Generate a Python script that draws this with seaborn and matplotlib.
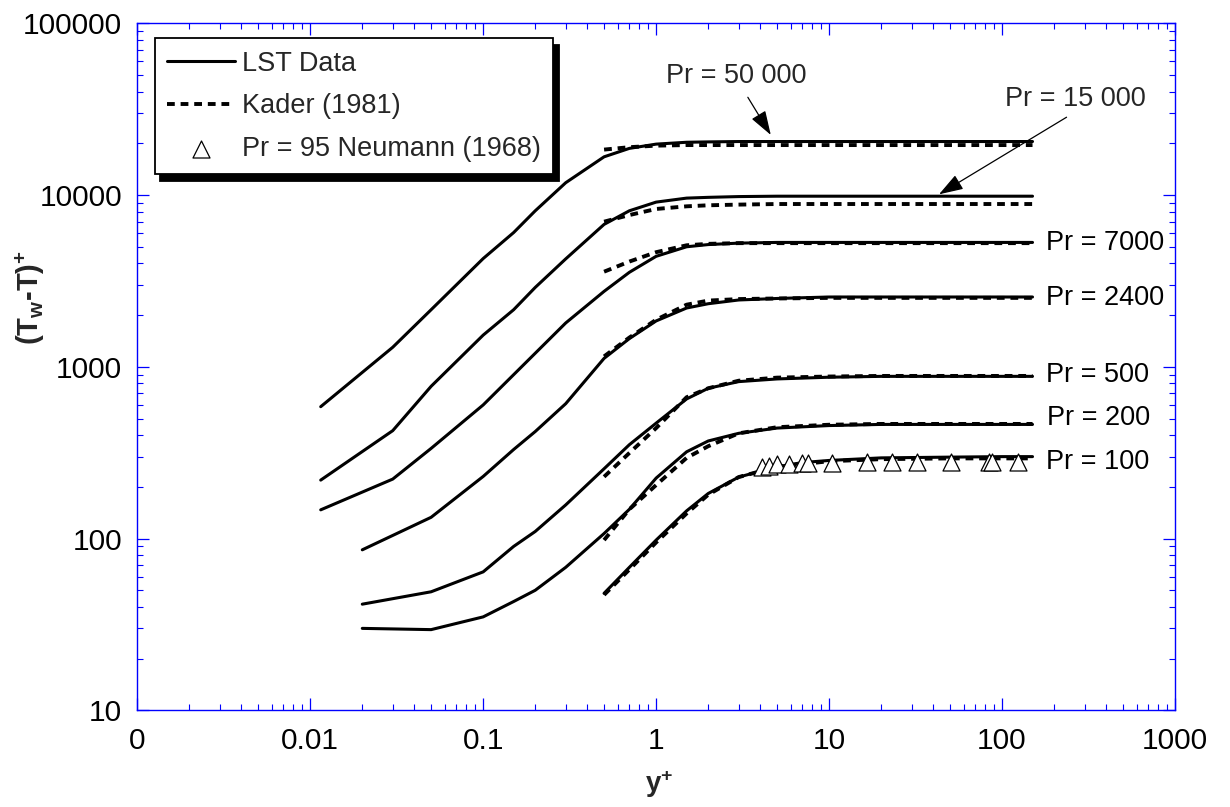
import matplotlib
matplotlib.use("Agg")
import matplotlib.pyplot as plt
import seaborn as sns
import pandas as pd
from matplotlib.ticker import FixedLocator, FixedFormatter, LogLocator, NullFormatter

# ---------------- data ----------------
x_lst_wall = [0.0115, 0.03, 0.05, 0.1, 0.15, 0.2, 0.3, 0.5, 0.7, 1, 1.5, 2, 3, 5, 10, 20, 50, 100, 150]
lst_pr50000 = [586, 1300, 2150, 4270, 6050, 8100, 11800, 16700, 18700, 19800, 20300, 20400, 20500,
               20500, 20500, 20500, 20500, 20500, 20500]
lst_pr15000 = [219, 425, 770, 1530, 2150, 2900, 4250, 6750, 8100, 9100, 9600, 9700, 9800,
               9850, 9850, 9850, 9850, 9850, 9850]
lst_pr7000 = [147, 222, 335, 600, 900, 1200, 1800, 2750, 3550, 4400, 5000, 5150, 5250,
              5300, 5300, 5300, 5300, 5300, 5300]

x_lst_mid = [0.02, 0.05, 0.1, 0.15, 0.2, 0.3, 0.5, 0.7, 1, 1.5, 2, 3, 5, 10, 20, 50, 100, 150]
lst_pr2400 = [86, 133, 230, 330, 420, 610, 1120, 1460, 1850, 2200, 2330, 2450, 2500, 2550,
              2550, 2550, 2550, 2550]
lst_pr500 = [41.5, 49, 64, 90, 110, 157, 255, 352, 470, 650, 750, 820, 850, 870, 880, 880, 880, 880]
lst_pr200 = [30, 29.5, 35, 43, 50, 68, 107, 148, 225, 320, 370, 410, 440, 455, 462, 462, 462, 462]

x_lst_pr100 = [0.5, 0.7, 1, 1.5, 2, 3, 5, 7, 10, 20, 50, 100, 150]
lst_pr100 = [48, 68, 98, 145, 183, 228, 262, 277, 285, 295, 298, 300, 300]

x_kader = [0.5, 0.7, 1, 1.5, 2, 3, 5, 10, 20, 50, 100, 150]
kader_pr50000 = [18400, 19000, 19400, 19550, 19550, 19550, 19550, 19550, 19550, 19550, 19550, 19550]
kader_pr15000 = [7000, 7650, 8300, 8600, 8720, 8800, 8870, 8870, 8870, 8870, 8870, 8870]
kader_pr7000 = [3580, 4100, 4650, 5100, 5200, 5250, 5250, 5250, 5250, 5250, 5250, 5250]
kader_pr2400 = [1150, 1480, 1880, 2300, 2430, 2480, 2500, 2520, 2520, 2520, 2520, 2520]
kader_pr500 = [229, 315, 440, 665, 750, 830, 865, 878, 885, 885, 885, 885]
kader_pr200 = [98, 148, 205, 295, 345, 410, 445, 460, 465, 465, 465, 465]
kader_pr100 = [47, 66, 95, 140, 180, 228, 262, 282, 290, 293, 293, 293]

neumann_x = [4.1, 4.5, 5.0, 5.85, 7.0, 7.6, 10.4, 16.6, 23.2, 32.1, 50.5, 84, 87, 123]
neumann_y = [261, 266, 270, 273, 276, 276, 277, 278, 278, 278, 278, 279, 279, 279]

pr_labels = ["Pr = 7000", "Pr = 2400", "Pr = 500", "Pr = 200", "Pr = 100"]
pr_label_x = [180, 180, 180, 183, 180]
pr_label_y = [5280, 2520, 895, 501, 280]

x_ticks = [1e-3, 1e-2, 1e-1, 1, 10, 100, 1000]
x_tick_labels = ["0", "0.01", "0.1", "1", "10", "100", "1000"]
y_ticks = [10, 100, 1000, 10000, 100000]
y_tick_labels = ["10", "100", "1000", "10000", "100000"]

legend_labels = ["LST Data", "Kader (1981)", "Pr = 95 Neumann (1968)"]

# ---------------- style ----------------
sns.set_style("ticks")
plt.rcParams["font.family"] = ["Liberation Sans", "DejaVu Sans"]
plt.rcParams["mathtext.fontset"] = "custom"
plt.rcParams["mathtext.rm"] = "Liberation Sans"
plt.rcParams["mathtext.bf"] = "Liberation Sans:bold"
plt.rcParams["mathtext.it"] = "Liberation Sans:italic"

fig = plt.figure(figsize=(12.3, 8.07), dpi=100)
ax = fig.add_axes([0.1116, 0.1198, 0.8437, 0.8513])

lst_series = [(x_lst_wall, lst_pr50000), (x_lst_wall, lst_pr15000), (x_lst_wall, lst_pr7000),
              (x_lst_mid, lst_pr2400), (x_lst_mid, lst_pr500), (x_lst_mid, lst_pr200),
              (x_lst_pr100, lst_pr100)]
kader_series = [kader_pr50000, kader_pr15000, kader_pr7000, kader_pr2400,
                kader_pr500, kader_pr200, kader_pr100]

lst_handle = None
for xs, ys in lst_series:
    df = pd.DataFrame({"y+": xs, "T+": ys})
    sns.lineplot(data=df, x="y+", y="T+", ax=ax, color="black", lw=2.2,
                 sort=False, estimator=None, legend=False)
    if lst_handle is None:
        lst_handle = ax.lines[-1]

kader_handle = None
for ys in kader_series:
    df = pd.DataFrame({"y+": x_kader, "T+": ys})
    sns.lineplot(data=df, x="y+", y="T+", ax=ax, color="black", lw=2.8,
                 sort=False, estimator=None, legend=False, dashes=False)
    ln = ax.lines[-1]
    ln.set_dashes((2.0, 1.5))
    if kader_handle is None:
        kader_handle = ln

sns.scatterplot(x=neumann_x, y=neumann_y, ax=ax, marker="^", s=150,
                facecolor="white", edgecolor="black", linewidth=0.9, zorder=5, legend=False)
neu_handle = ax.collections[-1]

ax.set_xscale("log")
ax.set_yscale("log")
ax.set_xlim(1e-3, 1e3)
ax.set_ylim(10, 1e5)
ax.xaxis.set_major_locator(FixedLocator(x_ticks))
ax.xaxis.set_major_formatter(FixedFormatter(x_tick_labels))
ax.yaxis.set_major_locator(FixedLocator(y_ticks))
ax.yaxis.set_major_formatter(FixedFormatter(y_tick_labels))
ax.xaxis.set_minor_locator(LogLocator(base=10, subs=range(2, 10), numticks=100))
ax.yaxis.set_minor_locator(LogLocator(base=10, subs=range(2, 10), numticks=100))
ax.xaxis.set_minor_formatter(NullFormatter())
ax.yaxis.set_minor_formatter(NullFormatter())
ax.set_xlabel("")
ax.set_ylabel("")

for sp in ax.spines.values():
    sp.set_color("blue")
    sp.set_linewidth(1.0)
    sp.set_visible(True)

ax.tick_params(which="both", direction="in", top=True, right=True, color="blue",
               labelcolor="black", labelsize=21.5)
ax.tick_params(which="major", length=8.6, width=0.9)
ax.tick_params(which="minor", length=4.0, width=0.8)
ax.tick_params(axis="x", which="major", pad=12)
ax.tick_params(axis="y", which="major", pad=11)

# right-hand labels
for t, xx, yy in zip(pr_labels, pr_label_x, pr_label_y):
    ax.text(xx, yy, t, fontsize=19.5, ha="left", va="center", color="black")

# annotated labels with arrows
ax.text(2.92, 49300, "Pr = 50 000", fontsize=19.5, ha="center", va="center")
ax.annotate("", xy=(4.6, 22400), xytext=(3.39, 37100),
            arrowprops=dict(arrowstyle="-|>,head_length=0.75,head_width=0.25", color="black",
                            lw=0.9, shrinkA=0, shrinkB=0, mutation_scale=20))
ax.text(267, 36200, "Pr = 15 000", fontsize=19.5, ha="center", va="center")
ax.annotate("", xy=(43.2, 10100), xytext=(236, 28400),
            arrowprops=dict(arrowstyle="-|>,head_length=0.75,head_width=0.25", color="black",
                            lw=0.9, shrinkA=0, shrinkB=0, mutation_scale=20))

leg = ax.legend([lst_handle, kader_handle, neu_handle], legend_labels,
                loc="upper left", bbox_to_anchor=(0.017, 0.978), borderaxespad=0,
                fontsize=19.5, frameon=True, fancybox=False, framealpha=1,
                edgecolor="black", handlelength=2.5, handletextpad=0.28,
                labelspacing=0.62, borderpad=0.45, scatterpoints=1,
                shadow={"ox": 4, "oy": -4.5, "color": "black", "alpha": 1})
leg.get_frame().set_linewidth(1.3)

# axis titles
fig.text(30 / 1230, 1 - 297 / 807,
         "$\\mathbf{(T}_{\\mathbf{w}}\\mathbf{\u2010T)}^{\\mathbf{+}}$",
         rotation=90, ha="center", va="center", fontsize=21)
fig.text(659 / 1230, 1 - 784 / 807, r"$\mathbf{y}^{\mathbf{+}}$",
         ha="center", va="center", fontsize=20)

fig.savefig("out.png", dpi=100)
